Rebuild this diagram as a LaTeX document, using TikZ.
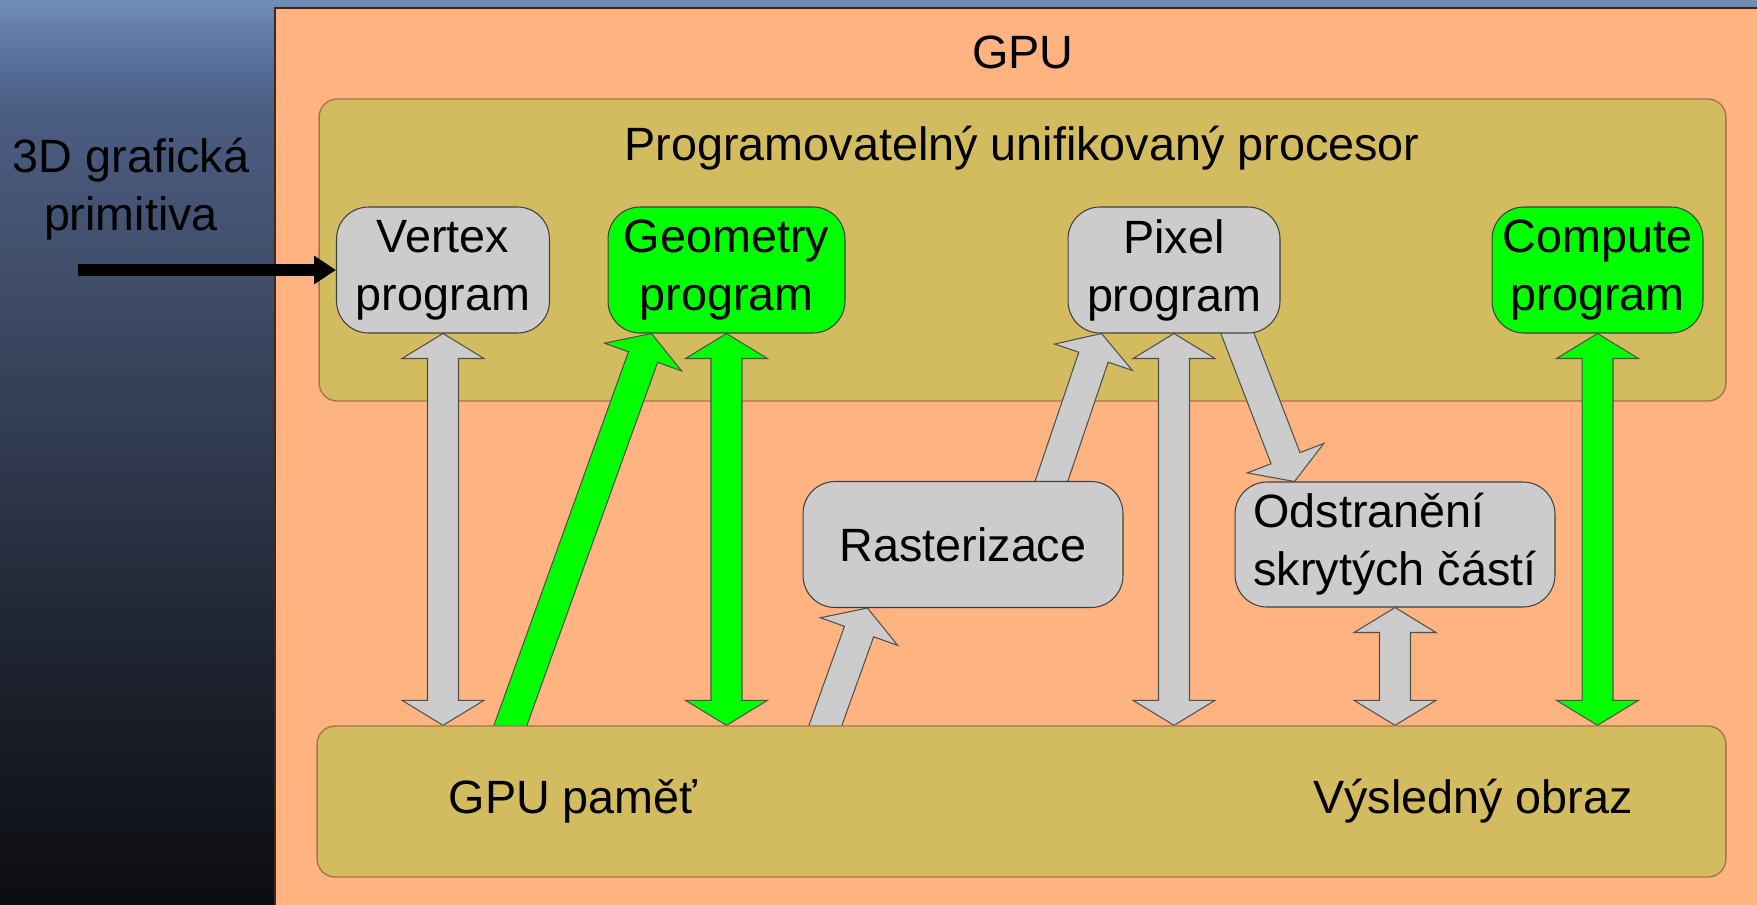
\documentclass[tikz,border=0pt]{standalone}
\usepackage{fontspec}
\setmainfont{Liberation Sans}
\usetikzlibrary{calc,arrows.meta}

\definecolor{gpuorange}{RGB}{255,179,128}
\definecolor{gpuedge}{RGB}{60,40,30}
\definecolor{procyellow}{RGB}{211,187,96}
\definecolor{procedge}{RGB}{168,116,70}
\definecolor{unitgray}{RGB}{204,204,204}
\definecolor{unitgreen}{RGB}{0,255,0}
\definecolor{unitedge}{RGB}{64,64,64}
\definecolor{pipeedge}{RGB}{80,80,80}
\definecolor{bgk0}{RGB}{12,13,17}
\definecolor{bgk1}{RGB}{22,25,33}
\definecolor{bgk2}{RGB}{32,37,50}
\definecolor{bgk3}{RGB}{48,57,78}
\definecolor{bgk4}{RGB}{64,78,106}
\definecolor{bgk5}{RGB}{75,93,130}
\definecolor{bgk6}{RGB}{90,115,160}
\definecolor{bgk7}{RGB}{112,140,185}

\pgfdeclareverticalshading{slidebg}{100bp}{color(0bp)=(bgk0); color(25bp)=(bgk0); color(32.5bp)=(bgk1); color(40bp)=(bgk2); color(50bp)=(bgk3); color(60bp)=(bgk4); color(69bp)=(bgk5); color(72bp)=(bgk6); color(75bp)=(bgk7); color(100bp)=(bgk7)}

\pgfdeclarelayer{back}
\pgfdeclarelayer{mid}
\pgfsetlayers{back,mid,main}

\tikzset{
  every node/.style={font=\fontsize{26.6}{33}\selectfont},
  gpubox/.style={fill=gpuorange, draw=gpuedge, line width=1.2pt},
  procbox/.style={fill=procyellow, draw=procedge, line width=0.8pt, rounded corners=0.36cm, inner sep=0pt},
  unitbox/.style={draw=unitedge, line width=0.6pt, rounded corners=0.64cm, minimum height=2.52cm, inner sep=0pt, align=center},
  graybox/.style={unitbox, fill=unitgray},
  greenbox/.style={unitbox, fill=unitgreen},
  graypipe/.style={fill=unitgray, draw=pipeedge, line width=0.6pt},
  greenpipe/.style={fill=unitgreen, draw=pipeedge, line width=0.6pt},
  feed/.style={line width=6.3pt, -{Triangle[length=12.5pt,width=15.5pt]}},
}

% block arrow, tail hidden under the box it leaves
\def\fatarrow[#1](#2)(#3){%
  \coordinate (fa-t) at ($(#2)!-0.2cm!(#3)$);
  \coordinate (fa-h) at ($(#3)!0.5cm!(#2)$);
  \draw[#1] ($(fa-t)!0.31cm!90:(#3)$) -- ($(fa-h)!0.31cm!90:(#3)$) -- ($(fa-h)!0.82cm!90:(#3)$) -- (#3)
    -- ($(fa-h)!0.82cm!-90:(#3)$) -- ($(fa-h)!0.31cm!-90:(#3)$) -- ($(fa-t)!0.31cm!-90:(#3)$) -- cycle;}
% block arrow with a head at both ends
\def\fatdarrow[#1](#2)(#3){%
  \coordinate (fd-a) at ($(#2)!0.5cm!(#3)$);
  \coordinate (fd-b) at ($(#3)!0.5cm!(#2)$);
  \draw[#1] (#2) -- ($(fd-a)!0.82cm!90:(#3)$) -- ($(fd-a)!0.31cm!90:(#3)$) -- ($(fd-b)!0.31cm!90:(#3)$) -- ($(fd-b)!0.82cm!90:(#3)$) -- (#3)
    -- ($(fd-b)!0.82cm!-90:(#3)$) -- ($(fd-b)!0.31cm!-90:(#3)$) -- ($(fd-a)!0.31cm!-90:(#3)$) -- ($(fd-a)!0.82cm!-90:(#3)$) -- cycle;}

\begin{document}
\begin{tikzpicture}[x=0.02cm,y=-0.02cm]
			%%%%% START %%%%%
			\useasboundingbox (0,0) rectangle (1757,904);
			
			\begin{pgfonlayer}{back}
			\shade[shading=slidebg] (0,0) rectangle (1757,904);
			\draw[gpubox] (275,8) rectangle (1762,910);
			\node[procbox, minimum width=28.14cm, minimum height=6.04cm] (procesor) at (1022.5,250) {};
			\end{pgfonlayer}
			
			\node[anchor=base] (gputitle) at (1023,68) {GPU};
			\node[anchor=base] (proctitle) at (1022,160) {Programovatelný unifikovaný procesor};
			\node[align=center] (primitive) at (131,189.5) {3D grafická\\primitiva};
			
			\node[graybox, minimum width=4.26cm] (vertex) at (443,270) {Vertex\\program};
			\node[greenbox, minimum width=4.74cm] (geometry) at (726.5,270) {Geometry\\program};
			\node[graybox, minimum width=4.24cm] (pixel) at (1174,270) {Pixel\\program};
			\node[greenbox, minimum width=4.22cm] (compute) at (1597.5,270) {Compute\\program};
			
			\node[graybox, minimum width=6.4cm] (raster) at (963,544.5) {Rasterizace};
			\node[graybox, minimum width=6.4cm, minimum height=2.5cm, align=left] (odstr) at (1395,544.5) {Odstranění\\skrytých částí};
			
			\node[procbox, minimum width=28.18cm, minimum height=3.02cm] (memory) at (1021.5,801.5) {};
			\node[anchor=base] (memtext) at (573,813) {GPU paměť};
			\node[anchor=base] (imgtext) at (1473,813) {Výsledný obraz};
			
			\coordinate (feedstart) at (78,270);
			\draw[feed] (feedstart) -- (vertex.west);
			
			\coordinate (vertexmem) at (vertex.south |- memory.north);
			\coordinate (geomem) at (geometry.south |- memory.north);
			\coordinate (pixelmem) at (pixel.south |- memory.north);
			\coordinate (computemem) at (compute.south |- memory.north);
			\coordinate (odstrmem) at (odstr.south |- memory.north);
			\coordinate (geoout) at ($(memory.north west)+(194,0)$);
			\coordinate (geoin) at ($(geometry.south west)+(44,0)$);
			\coordinate (rastout) at ($(memory.north west)+(509,0)$);
			\coordinate (rastin) at ($(raster.south west)+(65,0)$);
			\coordinate (pixout) at ($(raster.north west)+(249,0)$);
			\coordinate (pixin) at ($(pixel.south west)+(34,0)$);
			\coordinate (odstrout) at ($(pixel.south west)+(170,0)$);
			\coordinate (odstrin) at ($(odstr.north west)+(60,0)$);
			
			\begin{pgfonlayer}{mid}
			\fatdarrow[graypipe](vertex.south)(vertexmem);
			\fatarrow[greenpipe](geoout)(geoin);
			\fatdarrow[greenpipe](geometry.south)(geomem);
			\fatarrow[graypipe](rastout)(rastin);
			\fatarrow[graypipe](pixout)(pixin);
			\fatdarrow[graypipe](pixel.south)(pixelmem);
			\fatarrow[graypipe](odstrout)(odstrin);
			\fatdarrow[graypipe](odstr.south)(odstrmem);
			\fatdarrow[greenpipe](compute.south)(computemem);
			\end{pgfonlayer}
			
			%%%%% END %%%%%
\end{tikzpicture}
\end{document}
